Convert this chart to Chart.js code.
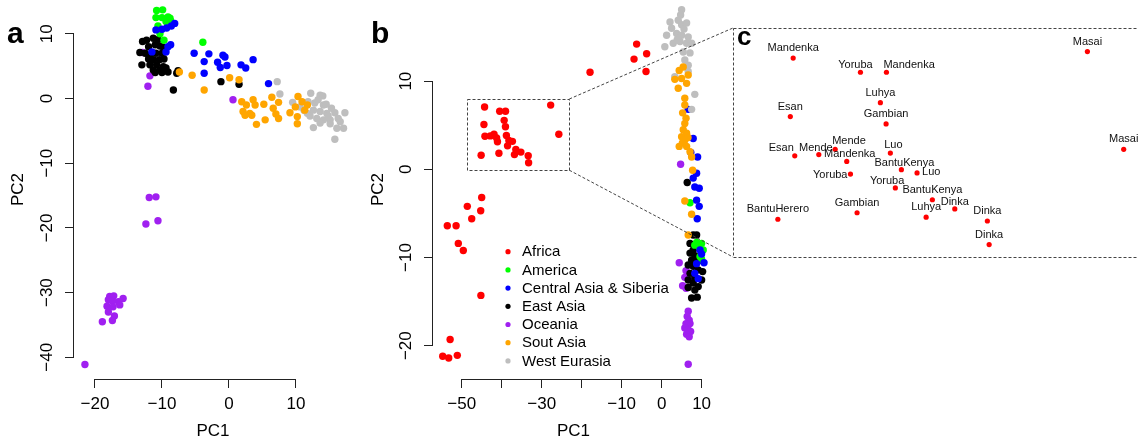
<!DOCTYPE html>
<html>
<head>
<meta charset="utf-8">
<script src="https://cdn.jsdelivr.net/npm/chart.js@4.4.1/dist/chart.umd.min.js"></script>
<style>
  html, body { margin: 0; padding: 0; width: 1138px; height: 443px; overflow: hidden; background: #fff; }
  canvas { position: absolute; }
  .tag { position: absolute; font-family: 'Liberation Sans', Arial, sans-serif; font-weight: bold; line-height: 1; }
</style>
</head>
<body>
<canvas id="pca-a" width="360" height="443" style="left:0;top:0"></canvas>
<canvas id="pca-b" width="360" height="443" style="left:360px;top:0"></canvas>
<canvas id="pca-c" width="441" height="233" style="left:731px;top:26px"></canvas>
<canvas id="zoom-links" width="1138" height="443" style="left:0;top:0;pointer-events:none"></canvas>
<div class="tag" style="left:7px;top:18px;font-size:30px">a</div>
<div class="tag" style="left:371px;top:18px;font-size:30px">b</div>
<div class="tag" style="left:737px;top:23px;font-size:26px">c</div>
<script>
/* global Chart */
Chart.defaults.font.family = "'Liberation Sans', Arial, sans-serif";
Chart.defaults.color = '#000';

const regionNames = ['Africa', 'America', 'Central Asia & Siberia', 'East Asia', 'Oceania', 'Sout Asia', 'West Eurasia'];
const regionColors = ['#ff0000', '#00ff00', '#0000ff', '#000000', '#a020f0', '#ffa500', '#bebebe'];
// lower value = drawn later (on top)
const stackOrder = [0, 4, 3, 5, 6, 1, 2];

// ---- panel a: PCA without Africa (PC1, PC2)
const aAmerica = [[-10.8,13.6],[-9.9,13.7],[-10.9,12.5],[-10.0,12.5],[-9.1,12.6],[-8.8,12.4],[-9.4,11.9],[-8.7,12.0],[-9.1,11.5],[-10.6,11.2],[-10.3,10.0],[-9.7,9.0],[-3.9,8.7]];
const aCentralAsia = [[-8.1,11.6],[-8.6,11.2],[-9.3,10.9],[-10.0,10.7],[-10.9,10.6],[-8.7,8.3],[-9.1,8.0],[-11.5,7.2],[-5.2,7.0],[-3.0,6.9],[-0.9,6.7],[-0.6,6.4],[-3.7,5.7],[-1.7,5.6],[-1.3,4.8],[-0.3,5.1],[-3.7,3.9],[1.8,5.2],[2.5,4.7],[3.6,6.0],[5.9,2.3],[-9.4,7.2]];
const aEastAsia = [[-12.9,8.8],[-12.3,9.0],[-11.3,9.3],[-10.6,9.1],[-12.0,8.0],[-11.0,8.3],[-10.3,8.1],[-9.8,7.9],[-13.3,7.1],[-12.5,7.0],[-11.8,6.7],[-10.9,7.0],[-10.0,7.0],[-9.6,7.2],[-12.0,6.1],[-11.3,6.0],[-10.4,6.0],[-9.7,6.1],[-13.0,5.2],[-11.8,5.2],[-10.8,5.2],[-9.8,4.9],[-11.3,4.4],[-10.3,4.4],[-9.4,4.7],[-9.1,4.1],[-11.0,4.0],[-10.0,4.0],[-7.6,4.3],[-7.8,3.9],[-8.3,1.3],[-1.2,2.6],[1.5,2.2]];
const aOceania = [[-12.9,7.1],[-11.8,3.5],[-12.1,1.9],[0.6,-0.2],[-11.9,-15.3],[-10.9,-15.2],[-12.4,-19.4],[-10.6,-18.9],[-17.8,-30.6],[-17.2,-30.5],[-18.0,-31.1],[-17.4,-31.3],[-16.5,-31.4],[-15.8,-30.9],[-18.2,-32.1],[-17.3,-32.2],[-16.3,-31.9],[-18.0,-33.0],[-17.1,-33.6],[-18.9,-34.5],[-17.4,-34.3],[-21.5,-41.1]];
const aSouthAsia = [[-7.4,4.1],[-5.5,3.6],[-3.7,1.3],[0.1,3.2],[1.5,2.9],[1.9,-0.5],[2.6,-1.0],[3.6,-0.2],[3.9,-1.0],[2.1,-2.0],[3.1,-2.3],[2.4,-2.6],[3.4,-2.6],[4.1,-4.0],[5.4,-3.3],[5.2,-0.9],[6.4,0.2],[7.4,-0.6],[6.6,-1.5],[7.0,-2.4],[7.4,-3.1],[9.1,-2.2],[10.2,-2.8],[10.2,-3.9],[9.9,-1.3],[10.3,0.3],[10.9,-0.5],[11.3,-1.8],[11.7,-1.0]];
const aWestEurasia = [[7.2,2.6],[7.6,0.7],[9.5,-0.6],[12.2,0.8],[13.6,0.5],[10.6,-1.3],[11.8,-0.5],[12.8,-0.7],[14.1,-1.0],[15.3,-1.5],[12.6,-1.8],[13.6,-2.0],[14.6,-2.3],[15.8,-2.2],[17.3,-2.2],[13.1,-3.1],[14.1,-3.3],[15.1,-3.3],[16.3,-3.1],[13.6,-3.8],[15.1,-3.9],[16.1,-4.6],[17.1,-4.6],[12.6,-4.5],[15.8,-6.3],[11.2,-1.8],[11.7,-2.3],[14.0,0.4],[13.3,-0.2],[14.5,-0.9],[12.1,-2.7],[16.6,-3.6],[14.8,-2.7]];

// ---- panel b: PCA with Africa
const bAfrica = [[-17.9,11.0],[-6.25,14.2],[-6.9,12.5],[-3.75,13.1],[-3.9,11.1],[-45.0,-3.2],[-48.6,-4.2],[-45.25,-4.7],[-47.5,-5.6],[-53.6,-6.4],[-51.4,-6.4],[-50.85,-8.4],[-49.6,-9.2],[-45.2,-14.3],[-52.9,-19.3],[-54.75,-21.2],[-53.25,-21.4],[-51.1,-21.1]];
const bAmerica = [[7.1,-3.8],[8.75,-8.3],[10.0,-8.4],[9.4,-8.8],[10.4,-9.15],[9.6,-9.9],[10.0,-10.2],[8.3,-8.6]];
const bCentralAsia = [[6.65,6.8],[7.9,3.5],[7.3,1.9],[9.0,1.4],[8.75,-0.45],[7.9,-1.0],[8.3,-2.0],[9.4,-2.15],[8.75,-3.5],[9.4,-4.2],[8.9,-5.6],[9.6,-9.15],[10.6,-10.6],[8.75,-10.7],[8.3,-11.8],[9.15,-12.4],[10.0,-9.6]];
const bEastAsia = [[6.4,-1.5],[7.9,-7.45],[8.75,-7.45],[7.1,-8.4],[7.9,-9.15],[7.1,-9.5],[8.3,-9.8],[7.5,-10.3],[6.65,-10.85],[7.9,-11.0],[9.15,-11.4],[7.1,-11.8],[8.3,-12.2],[6.65,-12.55],[7.9,-12.9],[9.15,-13.3],[6.65,-13.4],[8.3,-13.7],[7.5,-14.6],[8.9,-14.5],[9.6,-10.3],[10.25,-11.6],[10.0,-12.55],[8.3,-10.2]];
const bOceania = [[4.75,0.57],[4.4,-10.6],[6.1,-11.5],[5.8,-12.25],[5.25,-13.2],[6.1,-13.5],[8.3,-12.4],[6.65,-16.1],[6.4,-16.7],[6.9,-17.1],[6.1,-17.5],[7.1,-17.5],[5.8,-18.0],[6.65,-18.2],[7.25,-18.4],[6.25,-18.7],[6.9,-19.0],[6.65,-22.1]];
const bSouthAsia = [[5.4,11.6],[4.4,11.2],[3.3,10.2],[5.0,10.3],[6.65,10.7],[4.15,9.2],[6.25,9.75],[5.8,8.05],[5.8,7.3],[5.25,6.4],[5.8,5.2],[5.4,4.5],[6.25,4.1],[5.0,3.7],[5.8,3.3],[4.4,2.6],[6.25,2.6],[7.1,2.0],[7.5,1.4],[7.75,-0.1],[5.8,-3.6],[7.5,-5.1],[6.65,-7.45],[6.1,5.8],[5.2,3.0],[6.6,3.6]];
const bWestEurasia = [[5.0,18.1],[4.75,17.5],[2.1,16.7],[5.0,16.4],[2.5,16.0],[5.6,15.9],[1.25,15.2],[3.75,15.4],[5.0,15.2],[6.65,15.0],[0.8,13.9],[2.9,14.3],[4.6,14.5],[6.25,14.3],[7.5,14.3],[5.4,13.3],[7.1,13.2],[5.8,12.4],[6.65,11.8],[6.65,11.1],[3.3,10.5],[8.3,8.5],[7.5,6.8],[4.15,16.9],[6.25,16.6],[3.9,14.7]];

// African samples inside the zoom window (shown in b and labelled in c)
const africaNames = ['Mandenka','Yoruba','Mandenka','Masai','Luhya','Esan','Gambian','Esan','Mende','Mende','Mandenka','Luo','BantuKenya','Luo','Yoruba','Yoruba','BantuKenya','Dinka','Luhya','Gambian','BantuHerero','Dinka','Dinka','Masai'];
const africaPC1 = [-44.28,-40.50,-39.04,-27.75,-39.38,-44.44,-39.06,-44.19,-42.84,-41.92,-41.27,-38.82,-38.20,-37.32,-41.06,-38.54,-36.46,-35.20,-36.81,-40.69,-45.14,-33.37,-33.27,-25.71];
const africaPC2 = [7.06,6.58,6.58,7.28,5.55,5.08,4.83,3.75,3.79,3.97,3.56,3.84,3.28,3.17,3.13,2.66,2.26,1.95,1.67,1.82,1.60,1.54,0.74,3.97];

// zoom window drawn in b
const zoomPC1 = [-48.6, -23.1];
const zoomPC2 = [-0.1, 7.97];

// axis ticks
const aTicksX = [-20, -10, 0, 10];
const aLabelsX = ['\u221220', '\u221210', '0', '10'];
const aTicksY = [-40, -30, -20, -10, 0, 10];
const aLabelsY = ['\u221240', '\u221230', '\u221220', '\u221210', '0', '10'];
const bTicksX = [-50, -40, -30, -20, -10, 0, 10];
const bLabelsX = ['\u221250', '', '\u221230', '', '\u221210', '0', '10'];
const bTicksY = [-20, -10, 0, 10];
const bLabelsY = ['\u221220', '\u221210', '0', '10'];

// label placement in c: [textAlign, dx, dy] from the point
const labelAnchor = [
  ['center', 0, -10], ['center', -5, -7], ['left', -3, -7], ['center', 0, -10],
  ['center', 0, -10], ['center', 0, -10], ['center', 0, -10], ['right', -1, -8],
  ['center', -3, -7], ['left', -3, -8], ['center', 3, -7], ['center', 3, -8],
  ['center', 3, -7], ['left', 5, -1], ['right', -3, 1], ['right', 9, -7],
  ['center', 0, -10], ['center', 0, -7], ['center', 0, -10], ['center', 0, -10],
  ['center', 0, -10], ['center', 0, -10], ['center', 0, -10], ['center', 0, -10]
];

const axisFont = { size: 17 };
const lineColor = '#222';

function scatterSets(groups, radius) {
  return groups
    .map((pts, i) => pts && {
      label: regionNames[i],
      data: pts.map(([x, y]) => ({ x, y })),
      backgroundColor: regionColors[i],
      borderWidth: 0,
      pointRadius: radius,
      pointHoverRadius: radius,
      order: stackOrder[i],
      clip: false
    })
    .filter(Boolean);
}

function xAxis(min, max, ticks, labels) {
  return {
    type: 'linear', position: 'bottom', min, max,
    afterBuildTicks: (s) => { s.ticks = ticks.map((value) => ({ value })); },
    afterFit: (s) => { s.height = 64; s.paddingLeft = 0; s.paddingRight = 0; },
    border: { display: false },
    grid: { drawOnChartArea: false, tickLength: 9, color: lineColor },
    ticks: { autoSkip: false, maxRotation: 0, padding: 6, font: axisFont, color: '#000', callback: (v, i) => labels[i] },
    title: { display: true, text: 'PC1', font: axisFont, color: '#000', padding: { top: 0, bottom: 1 } }
  };
}

function yAxis(min, max, ticks, labels, width) {
  return {
    type: 'linear', position: 'left', min, max,
    afterBuildTicks: (s) => { s.ticks = ticks.map((value) => ({ value })); },
    afterFit: (s) => { s.width = width; s.paddingTop = 0; s.paddingBottom = 0; },
    border: { display: false },
    grid: { drawOnChartArea: false, tickLength: 9, color: lineColor },
    ticks: { autoSkip: false, minRotation: 90, maxRotation: 90, crossAlign: 'center', padding: 3, font: axisFont, color: '#000', callback: (v, i) => labels[i] },
    title: { display: true, text: 'PC2', font: axisFont, color: '#000', padding: { top: 8, bottom: 0 } }
  };
}

// R-style axis lines: only from first to last tick
const axisLines = {
  id: 'axisLines',
  afterDraw(chart) {
    const { ctx, chartArea, scales: { x, y } } = chart;
    const xt = x.ticks, yt = y.ticks;
    ctx.save();
    ctx.strokeStyle = lineColor;
    ctx.lineWidth = 1;
    ctx.beginPath();
    const yb = Math.round(chartArea.bottom) + 0.5;
    ctx.moveTo(x.getPixelForValue(xt[0].value), yb);
    ctx.lineTo(x.getPixelForValue(xt[xt.length - 1].value), yb);
    const xl = Math.round(chartArea.left) - 0.5;
    ctx.moveTo(xl, y.getPixelForValue(yt[0].value));
    ctx.lineTo(xl, y.getPixelForValue(yt[yt.length - 1].value));
    ctx.stroke();
    ctx.restore();
  }
};

function dashed(ctx) {
  ctx.strokeStyle = '#444';
  ctx.lineWidth = 1;
  ctx.setLineDash([3, 2]);
}

// dashed zoom window + legend in b
const panelB = {
  id: 'panelB',
  afterDatasetsDraw(chart) {
    const { ctx, scales: { x, y } } = chart;
    ctx.save();
    dashed(ctx);
    const l = Math.round(x.getPixelForValue(zoomPC1[0])) + 0.5;
    const r = Math.round(x.getPixelForValue(zoomPC1[1])) + 0.5;
    const t = Math.round(y.getPixelForValue(zoomPC2[1])) + 0.5;
    const b = Math.round(y.getPixelForValue(zoomPC2[0])) + 0.5;
    ctx.strokeRect(l, t, r - l, b - t);
    ctx.restore();

    ctx.save();
    ctx.font = "15px 'Liberation Sans', Arial, sans-serif";
    ctx.textBaseline = 'middle';
    regionNames.forEach((name, i) => {
      const cy = 251.7 + i * 18.2;
      ctx.fillStyle = regionColors[i];
      ctx.beginPath();
      ctx.arc(148, cy, 2.6, 0, Math.PI * 2);
      ctx.fill();
      ctx.fillStyle = '#000';
      ctx.fillText(name, 162, cy + 0.5);
    });
    ctx.restore();
  }
};

// dashed frame and population labels in c
const panelC = {
  id: 'panelC',
  afterDatasetsDraw(chart) {
    const { ctx, chartArea: a } = chart;
    ctx.save();
    dashed(ctx);
    ctx.strokeRect(Math.round(a.left) + 0.5, Math.round(a.top) + 0.5, Math.round(a.width), Math.round(a.height));
    ctx.restore();

    const pts = chart.getDatasetMeta(0).data;
    ctx.save();
    ctx.font = "11px 'Liberation Sans', Arial, sans-serif";
    ctx.fillStyle = '#111';
    ctx.textBaseline = 'middle';
    pts.forEach((p, i) => {
      const [align, dx, dy] = labelAnchor[i];
      ctx.textAlign = align;
      ctx.fillText(africaNames[i], p.x + dx, p.y + dy);
    });
    ctx.restore();
  }
};

const baseOptions = {
  responsive: false,
  animation: false,
  events: [],
  plugins: { legend: { display: false }, tooltip: { enabled: false } }
};

// Panel a
const chartA = new Chart(document.getElementById('pca-a'), {
  type: 'scatter',
  data: { datasets: scatterSets([null, aAmerica, aCentralAsia, aEastAsia, aOceania, aSouthAsia, aWestEurasia], 3.7) },
  options: {
    ...baseOptions,
    layout: { autoPadding: false, padding: { left: 0, top: 0, right: 8, bottom: 0 } },
    scales: {
      x: xAxis(-23.13, 18.36, aTicksX, aLabelsX),
      y: yAxis(-43.35, 15.22, aTicksY, aLabelsY, 74)
    }
  },
  plugins: [axisLines]
});

// Panel b
const bAfricaAll = bAfrica.concat(africaPC1.map((x, i) => [x, africaPC2[i]]));
const chartB = new Chart(document.getElementById('pca-b'), {
  type: 'scatter',
  data: { datasets: scatterSets([bAfricaAll, bAmerica, bCentralAsia, bEastAsia, bOceania, bSouthAsia, bWestEurasia], 3.7) },
  options: {
    ...baseOptions,
    layout: { autoPadding: false, padding: { left: 0, top: 0, right: 6, bottom: 0 } },
    scales: {
      x: xAxis(-57.18, 13.1, bTicksX, bLabelsX),
      y: yAxis(-23.78, 19.2, bTicksY, bLabelsY, 73)
    }
  },
  plugins: [axisLines, panelB]
});

// Panel c: close-up of the zoom window
const chartC = new Chart(document.getElementById('pca-c'), {
  type: 'scatter',
  data: {
    datasets: [{
      label: 'Africa',
      data: africaPC1.map((x, i) => ({ x, y: africaPC2[i] })),
      backgroundColor: regionColors[0],
      borderWidth: 0,
      pointRadius: 2.6,
      clip: false
    }]
  },
  options: {
    ...baseOptions,
    layout: { autoPadding: false, padding: 2 },
    scales: {
      x: { type: 'linear', display: false, min: -47.66, max: -23.11 },
      y: { type: 'linear', display: false, min: 0.32, max: 8.08 }
    }
  },
  plugins: [panelC]
});

// connector lines from the b window to the c frame
(function drawZoomLinks() {
  const ctx = document.getElementById('zoom-links').getContext('2d');
  const bEl = chartB.canvas, cEl = chartC.canvas;
  const { x, y } = chartB.scales;
  const r = bEl.offsetLeft + x.getPixelForValue(zoomPC1[1]);
  const t = bEl.offsetTop + y.getPixelForValue(zoomPC2[1]);
  const b = bEl.offsetTop + y.getPixelForValue(zoomPC2[0]);
  const a = chartC.chartArea;
  ctx.save();
  dashed(ctx);
  ctx.beginPath();
  ctx.moveTo(r, t);
  ctx.lineTo(cEl.offsetLeft + a.left, cEl.offsetTop + a.top);
  ctx.moveTo(r, b);
  ctx.lineTo(cEl.offsetLeft + a.left, cEl.offsetTop + a.bottom);
  ctx.stroke();
  ctx.restore();
})();
</script>
</body>
</html>
